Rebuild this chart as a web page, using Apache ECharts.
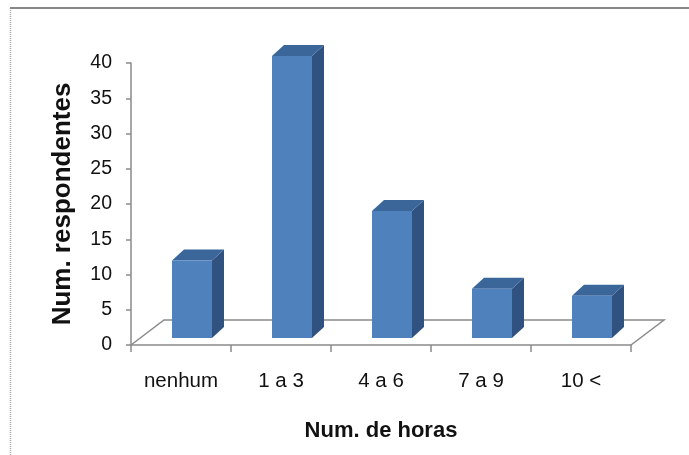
<!DOCTYPE html>
<html>
<head>
<meta charset="utf-8">
<script src="https://cdn.jsdelivr.net/npm/echarts@6/dist/echarts.min.js"></script>
<style>
  html, body { margin: 0; padding: 0; background: #fff; }
  #chart { width: 689px; height: 455px; }
</style>
</head>
<body>
<div id="chart"></div>
<script>
// Hours spent per week vs. number of respondents
const categories = ['nenhum', '1 a 3', '4 a 6', '7 a 9', '10 <'];
const respondentes = [11, 40, 18, 7, 6];
const yTicks = { min: 0, max: 40, step: 5 };

const FONT = '"Liberation Sans", Arial, sans-serif';
const AXIS_GRAY = '#8a8a8a';

// 3D look: floor depth and bar geometry (pixels)
const FLOOR_DX = 33, FLOOR_DY = 25;
const BAR_SHIFT_X = 11, BAR_SHIFT_Y = 7;   // bar front plane sits a bit behind the axis plane
const BAR_W = 40;
const BAR_DX = 12, BAR_DY = 11;            // bar depth
const FACE = '#4f81bd', TOP = '#3b6699', SIDE = '#2f5281';

const chart = echarts.init(document.getElementById('chart'), null, { renderer: 'canvas' });

function renderFloor(params, api) {
  const cs = params.coordSys;
  const y0 = cs.y + cs.height;
  const x0 = cs.x, x1 = cs.x + cs.width;
  return {
    type: 'polyline',
    shape: {
      points: [
        [x0, y0],
        [x0 + FLOOR_DX, y0 - FLOOR_DY],
        [x1 + FLOOR_DX, y0 - FLOOR_DY],
        [x1, y0]
      ]
    },
    style: { stroke: AXIS_GRAY, lineWidth: 1.5, fill: null },
    silent: true
  };
}

function renderBar(params, api) {
  const i = api.value(0);
  const v = api.value(1);
  const base = api.coord([i, 0]);
  const top = api.coord([i, v]);
  const xl = base[0] + BAR_SHIFT_X - BAR_W / 2;
  const xr = xl + BAR_W;
  const yb = base[1] - BAR_SHIFT_Y;
  const yt = top[1] - BAR_SHIFT_Y;
  return {
    type: 'group',
    children: [
      {
        type: 'polygon',
        shape: { points: [[xr, yb], [xr + BAR_DX, yb - BAR_DY], [xr + BAR_DX, yt - BAR_DY], [xr, yt]] },
        style: { fill: SIDE }
      },
      {
        type: 'polygon',
        shape: { points: [[xl, yt], [xr, yt], [xr + BAR_DX, yt - BAR_DY], [xl + BAR_DX, yt - BAR_DY]] },
        style: { fill: TOP }
      },
      {
        type: 'rect',
        shape: { x: xl, y: yt, width: BAR_W, height: yb - yt },
        style: { fill: FACE }
      }
    ]
  };
}

chart.setOption({
  animation: false,
  backgroundColor: '#fff',
  grid: { left: 131, right: 58, top: 63, bottom: 110, containLabel: false },
  xAxis: {
    type: 'category',
    data: categories,
    name: 'Num. de horas',
    nameLocation: 'middle',
    nameGap: 75,
    nameTextStyle: { fontFamily: FONT, fontSize: 22, fontWeight: 'bold', color: '#111' },
    axisLine: { lineStyle: { color: AXIS_GRAY, width: 1.5 } },
    axisTick: { show: true, length: 7, lineStyle: { color: AXIS_GRAY, width: 1.5 } },
    axisLabel: { fontFamily: FONT, fontSize: 20.5, color: '#111', margin: 26 },
    splitLine: { show: false }
  },
  yAxis: {
    type: 'value',
    min: yTicks.min,
    max: yTicks.max,
    interval: yTicks.step,
    name: 'Num. respondentes',
    nameLocation: 'middle',
    nameGap: 55,
    nameRotate: 90,
    nameTextStyle: { fontFamily: FONT, fontSize: 26, fontWeight: 'bold', color: '#111' },
    axisLine: { show: true, lineStyle: { color: AXIS_GRAY, width: 1.5 } },
    axisTick: { show: true, length: 5, lineStyle: { color: AXIS_GRAY, width: 1.5 } },
    axisLabel: { fontFamily: FONT, fontSize: 19.5, color: '#111', margin: 19 },
    splitLine: { show: false }
  },
  graphic: [
    { type: 'line', shape: { x1: 10.5, y1: 8, x2: 10.5, y2: 455 }, style: { stroke: '#a8a8a8', lineWidth: 1.5, lineDash: [1, 1] }, silent: true },
    { type: 'line', shape: { x1: 10, y1: 8, x2: 689, y2: 8 }, style: { stroke: '#878787', lineWidth: 2 }, silent: true }
  ],
  series: [
    {
      type: 'custom',
      name: 'piso',
      renderItem: renderFloor,
      data: [[0, 0]],
      z: 1,
      silent: true
    },
    {
      type: 'custom',
      name: 'respondentes',
      renderItem: renderBar,
      data: respondentes.map((v, i) => [i, v]),
      encode: { x: 0, y: 1 },
      z: 2
    }
  ]
});
</script>
</body>
</html>
